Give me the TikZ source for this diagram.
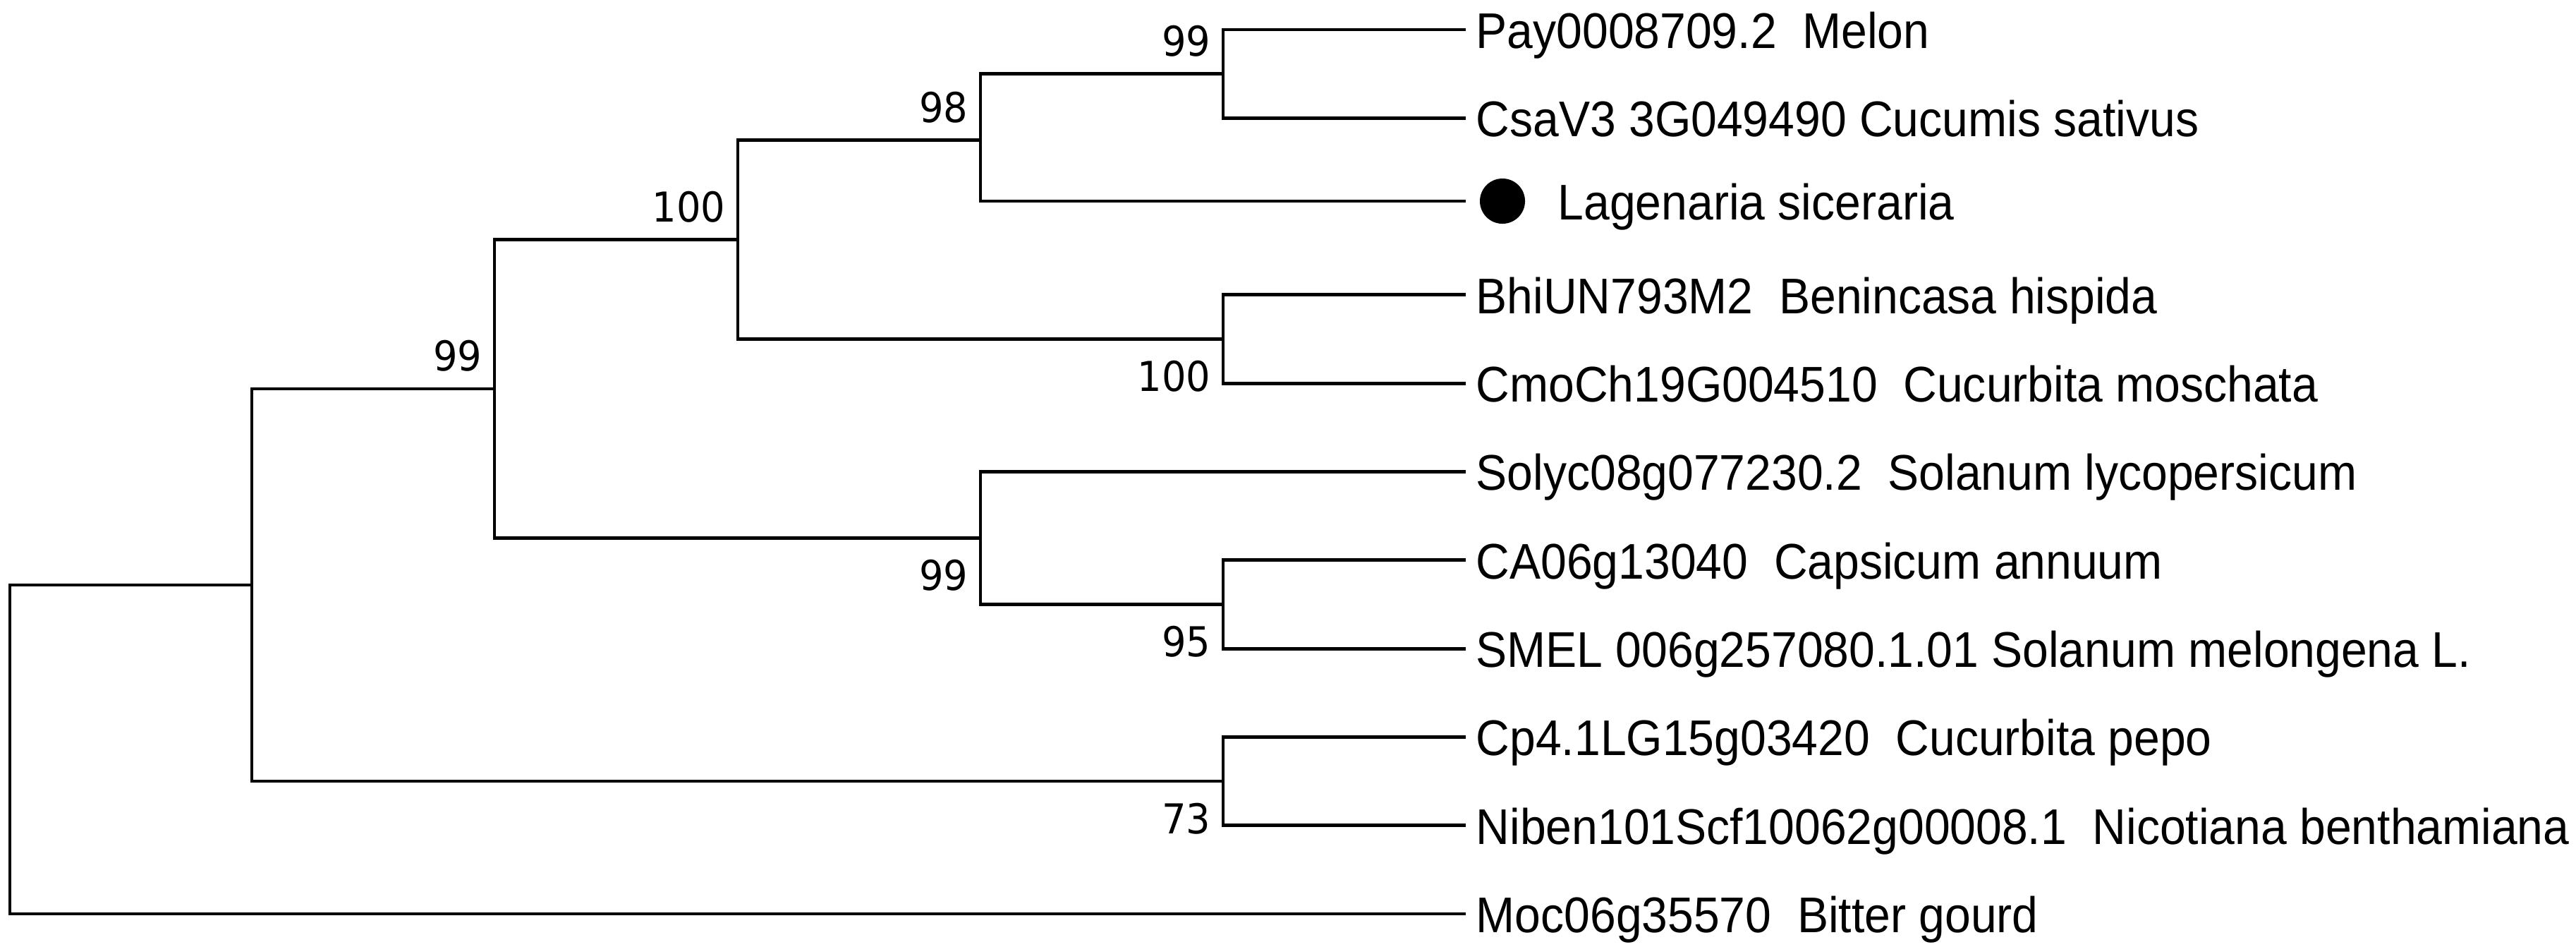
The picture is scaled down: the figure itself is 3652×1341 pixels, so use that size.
\documentclass[tikz,border=0pt]{standalone}
\usepackage{fontspec}
\usepackage{tikz}
\usetikzlibrary{positioning}
\newfontfamily\taxonfont[FakeStretch=0.93]{Liberation Sans}
\newfontfamily\bootfont[FakeStretch=0.93]{DejaVu Sans}

\begin{document}
\begin{tikzpicture}[
    x=0.01cm, y=-0.01cm,
    taxon/.style={anchor=west, inner xsep=0.14cm, inner ysep=0pt, text height=15pt, text depth=0pt, font=\taxonfont\fontsize{20.2pt}{24pt}\selectfont},
    bootup/.style={anchor=south east, inner sep=0pt, xshift=-0.17cm, yshift=0.24cm, font=\bootfont\fontsize{16.6pt}{20pt}\selectfont},
    bootdown/.style={anchor=north east, inner sep=0pt, xshift=-0.17cm, yshift=-0.30cm, font=\bootfont\fontsize{16.6pt}{20pt}\selectfont},
    marker/.style={circle, fill=black, minimum size=0.64cm, inner sep=0pt, outer sep=0.2cm},
    branch/.style={line width=1.4pt, black}
]
\useasboundingbox (0,0) rectangle (3652,1341);

% Leaves
\node[taxon] (pay) at (2078,42) {Pay0008709.2~~Melon};
\node[taxon] (csa) at (2078,167.3) {CsaV3 3G049490 Cucumis sativus};
\node[marker] (lagdot) at (2130,285) {};
\node[taxon, right=0.12cm of lagdot] (lag) {Lagenaria siceraria};
\node[taxon] (bhi) at (2078,417.9) {BhiUN793M2~~Benincasa hispida};
\node[taxon] (cmo) at (2078,543.2) {CmoCh19G004510~~Cucurbita moschata};
\node[taxon] (soly) at (2078,668.5) {Solyc08g077230.2~~Solanum lycopersicum};
\node[taxon] (ca) at (2078,793.8) {CA06g13040~~Capsicum annuum};
\node[taxon] (smel) at (2078,919.1) {SMEL 006g257080.1.01 Solanum melongena L.};
\node[taxon] (cp) at (2078,1044.4) {Cp4.1LG15g03420~~Cucurbita pepo};
\node[taxon] (niben) at (2078,1169.7) {Niben101Scf10062g00008.1~~Nicotiana benthamiana};
\node[taxon] (moc) at (2078,1295) {Moc06g35570~~Bitter gourd};

% Internal nodes
\coordinate (cucumis) at (1734,104.65);
\coordinate (withlag) at (1390,198.6);
\coordinate (benincmo) at (1734,480.55);
\coordinate (cucclade) at (1046,339.6);
\coordinate (capsmel) at (1734,856.45);
\coordinate (solclade) at (1390,762.5);
\coordinate (ingroup) at (701,551);
\coordinate (peponiben) at (1734,1107);
\coordinate (mainsplit) at (357,829);
\coordinate (root) at (14,1062);

% Branches
\draw[branch] (pay) -| (cucumis) |- (csa);
\draw[branch] (cucumis) -| (withlag) |- (lagdot);
\draw[branch] (bhi) -| (benincmo) |- (cmo);
\draw[branch] (withlag) -| (cucclade) |- (benincmo);
\draw[branch] (ca) -| (capsmel) |- (smel);
\draw[branch] (soly) -| (solclade) |- (capsmel);
\draw[branch] (cucclade) -| (ingroup) |- (solclade);
\draw[branch] (cp) -| (peponiben) |- (niben);
\draw[branch] (ingroup) -| (mainsplit) |- (peponiben);
\draw[branch] (mainsplit) -| (root) |- (moc);

% Bootstrap values
\node[bootup] (bs-cucumis) at (cucumis) {99};
\node[bootup] (bs-withlag) at (withlag) {98};
\node[bootup] (bs-cucclade) at (cucclade) {100};
\node[bootup] (bs-ingroup) at (ingroup) {99};
\node[bootdown] (bs-benincmo) at (benincmo) {100};
\node[bootdown] (bs-solclade) at (solclade) {99};
\node[bootdown] (bs-capsmel) at (capsmel) {95};
\node[bootdown] (bs-peponiben) at (peponiben) {73};

\end{tikzpicture}
\end{document}
